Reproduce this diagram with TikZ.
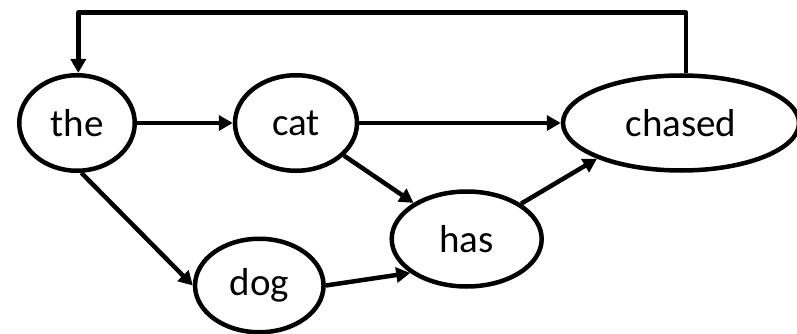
\documentclass[tikz,border=0pt]{standalone}
\usepackage{fontspec}
\setmainfont{Carlito}
\usetikzlibrary{shapes.geometric,arrows.meta}
\begin{document}
\begin{tikzpicture}[x=1pt,y=-1pt,
  word/.style={ellipse,draw,line width=4.5pt,inner sep=0pt,
    font=\fontsize{39}{42}\selectfont},
  conn/.style={line width=4.5pt,line join=round,
    -{Triangle[length=14pt,width=15pt]}}]
\useasboundingbox (0,0) rectangle (797,334);
\node[word,minimum width=115.5pt,minimum height=95.5pt] (the) at (77,123) {the};
\node[word,minimum width=122pt,minimum height=95.5pt] (cat) at (296,123) {cat};
\node[word,minimum width=236pt,minimum height=95pt] (chased) at (681,123) {chased};
\node[word,minimum width=150pt,minimum height=95pt] (has) at (466.7,239) {has};
\node[word,minimum width=128.5pt,minimum height=93.5pt] (dog) at (259.3,285.5) {dog};
\coordinate (tr) at (686,12.5);
\coordinate (tl) at (78.3,12.5);
\draw[conn] (the) -- (cat);
\draw[conn] (cat) -- (chased);
\draw[conn] (cat) -- (has);
\draw[conn] (has.33) -- (chased.203);
\draw[conn] (dog.east) -- (has.211);
\draw[conn] (the.-85) -- (dog.west);
\draw[conn] (chased.north -| tr) -- (tr) -- (tl) -- (the.north -| tl);
\end{tikzpicture}
\end{document}
